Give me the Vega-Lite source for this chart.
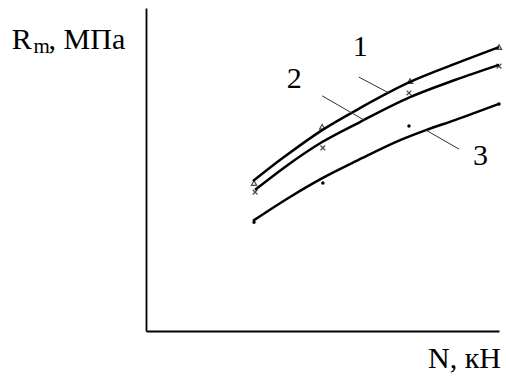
{
  "$schema": "https://vega.github.io/schema/vega-lite/v6.json",
  "width": 353,
  "height": 323,
  "autosize": "none",
  "padding": {"left": 146, "top": 8, "right": 7, "bottom": 45},
  "background": "white",
  "config": {
    "view": {"stroke": null},
    "axis": {"domain": true, "domainColor": "black", "domainWidth": 1.8, "ticks": false, "labels": false, "grid": false, "title": null}
  },
  "datasets": {
    "curves": [
      {"series": "1", "N": 3.03, "R": 4.64}, {"series": "1", "N": 3.88, "R": 5.36}, {"series": "1", "N": 4.99, "R": 6.22},
      {"series": "1", "N": 6.06, "R": 6.90}, {"series": "1", "N": 7.48, "R": 7.71}, {"series": "1", "N": 8.75, "R": 8.27},
      {"series": "1", "N": 10.0, "R": 8.79},
      {"series": "2", "N": 3.09, "R": 4.37}, {"series": "2", "N": 3.94, "R": 5.08}, {"series": "2", "N": 4.99, "R": 5.85},
      {"series": "2", "N": 6.06, "R": 6.47}, {"series": "2", "N": 7.48, "R": 7.24}, {"series": "2", "N": 8.75, "R": 7.77},
      {"series": "2", "N": 10.0, "R": 8.24},
      {"series": "3", "N": 3.03, "R": 3.41}, {"series": "3", "N": 4.08, "R": 4.15}, {"series": "3", "N": 5.01, "R": 4.74},
      {"series": "3", "N": 6.01, "R": 5.29}, {"series": "3", "N": 7.20, "R": 5.91}, {"series": "3", "N": 7.93, "R": 6.22},
      {"series": "3", "N": 8.75, "R": 6.53}, {"series": "3", "N": 10.0, "R": 7.03}
    ],
    "markers": [
      {"series": "1", "N": 3.06, "R": 4.58}, {"series": "1", "N": 4.99, "R": 6.32}, {"series": "1", "N": 7.48, "R": 7.74}, {"series": "1", "N": 10.0, "R": 8.79},
      {"series": "2", "N": 3.09, "R": 4.30}, {"series": "2", "N": 5.01, "R": 5.67}, {"series": "2", "N": 7.45, "R": 7.37}, {"series": "2", "N": 10.0, "R": 8.20},
      {"series": "3", "N": 3.06, "R": 3.37}, {"series": "3", "N": 5.01, "R": 4.58}, {"series": "3", "N": 7.45, "R": 6.35}, {"series": "3", "N": 10.0, "R": 7.03}
    ],
    "leaders": [
      {"series": "1", "N": 6.03, "R": 7.86, "N2": 6.88, "R2": 7.37},
      {"series": "2", "N": 4.99, "R": 7.28, "N2": 6.18, "R2": 6.53},
      {"series": "3", "N": 7.93, "R": 6.22, "N2": 8.87, "R2": 5.63}
    ],
    "texts": [
      {"t": "1", "N": 5.86, "R": 8.51},
      {"t": "2", "N": 3.99, "R": 7.52},
      {"t": "3", "N": 9.26, "R": 5.14},
      {"t": "R", "N": -3.80, "R": 8.73},
      {"t": ", МПа", "N": -2.76, "R": 8.73},
      {"t": "N, кН", "N": 7.99, "R": -1.15}
    ],
    "subs": [
      {"t": "m", "N": -3.19, "R": 8.61}
    ]
  },
  "layer": [
    {
      "data": {"name": "curves"},
      "mark": {"type": "line", "interpolate": "monotone", "color": "black", "strokeWidth": 2.5},
      "encoding": {
        "x": {"field": "N", "type": "quantitative", "scale": {"domain": [0, 10], "nice": false, "zero": false}, "axis": {"orient": "bottom"}},
        "y": {"field": "R", "type": "quantitative", "scale": {"domain": [0, 10], "nice": false, "zero": false}, "axis": {"orient": "left"}},
        "detail": {"field": "series"}
      }
    },
    {
      "data": {"name": "markers"},
      "transform": [{"filter": "datum.series == '1'"}],
      "mark": {"type": "point", "shape": "triangle-up", "filled": false, "color": "black", "size": 28, "strokeWidth": 1.2},
      "encoding": {
        "x": {"field": "N", "type": "quantitative"},
        "y": {"field": "R", "type": "quantitative"}
      }
    },
    {
      "data": {"name": "markers"},
      "transform": [{"filter": "datum.series == '2'"}],
      "mark": {"type": "point", "shape": "M-1,-1L1,1M-1,1L1,-1", "filled": false, "color": "black", "size": 22, "strokeWidth": 1.2},
      "encoding": {
        "x": {"field": "N", "type": "quantitative"},
        "y": {"field": "R", "type": "quantitative"}
      }
    },
    {
      "data": {"name": "markers"},
      "transform": [{"filter": "datum.series == '3'"}],
      "mark": {"type": "point", "shape": "circle", "filled": true, "color": "black", "size": 12, "opacity": 1},
      "encoding": {
        "x": {"field": "N", "type": "quantitative"},
        "y": {"field": "R", "type": "quantitative"}
      }
    },
    {
      "data": {"name": "leaders"},
      "mark": {"type": "rule", "color": "#333333", "strokeWidth": 1},
      "encoding": {
        "x": {"field": "N", "type": "quantitative"},
        "y": {"field": "R", "type": "quantitative"},
        "x2": {"field": "N2"},
        "y2": {"field": "R2"}
      }
    },
    {
      "data": {"name": "texts"},
      "mark": {"type": "text", "font": "Liberation Serif", "fontSize": 30, "align": "left", "baseline": "alphabetic", "color": "black"},
      "encoding": {
        "x": {"field": "N", "type": "quantitative"},
        "y": {"field": "R", "type": "quantitative"},
        "text": {"field": "t"}
      }
    },
    {
      "data": {"name": "subs"},
      "mark": {"type": "text", "font": "Liberation Serif", "fontSize": 21, "align": "left", "baseline": "alphabetic", "color": "black"},
      "encoding": {
        "x": {"field": "N", "type": "quantitative"},
        "y": {"field": "R", "type": "quantitative"},
        "text": {"field": "t"}
      }
    }
  ]
}
